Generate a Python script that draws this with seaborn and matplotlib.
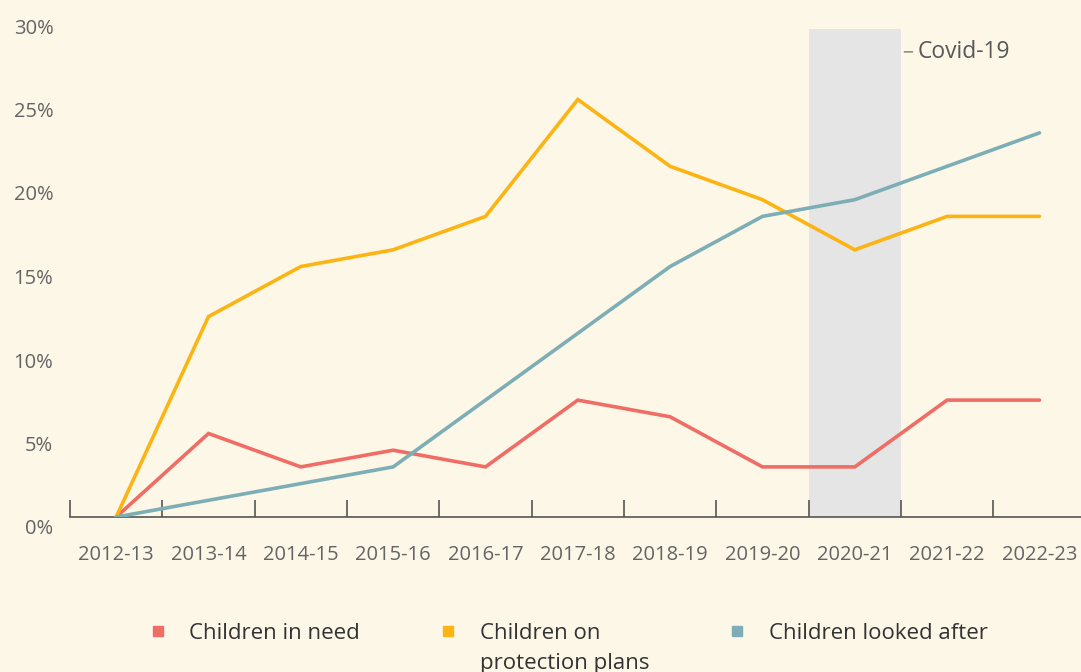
import matplotlib
matplotlib.use("Agg")
import matplotlib.pyplot as plt
import matplotlib.transforms as mtransforms
from matplotlib.lines import Line2D
import seaborn as sns
import pandas as pd

# Percentage change since 2012-13, by year
years = ["2012-13", "2013-14", "2014-15", "2015-16", "2016-17", "2017-18",
         "2018-19", "2019-20", "2020-21", "2021-22", "2022-23"]
children_in_need = [0, 5, 3, 4, 3, 7, 6, 3, 3, 7, 7]
protection_plans = [0, 12, 15, 16, 18, 25, 21, 19, 16, 18, 18]
looked_after = [0, 1, 2, 3, 7, 11, 15, 18, 19, 21, 23]

series_names = ["Children in need", "Children on protection plans", "Children looked after"]
series_colors = ["#ef6d65", "#fcb414", "#7daeb6"]
# legend labels, wrapped over two rows
legend_lines = [["Children in need", ""],
                ["Children on", "protection plans"],
                ["Children looked after", ""]]
y_ticks = [0, 5, 10, 15, 20, 25, 30]
covid_year = "2020-21"

BG = "#fdf7e8"
TICK_COLOR = "#646464"

sns.set_theme(style="white")
plt.rcParams["font.family"] = ["Open Sans", "DejaVu Sans"]

df = pd.DataFrame({
    "year": years * 3,
    "idx": list(range(len(years))) * 3,
    "value": children_in_need + protection_plans + looked_after,
    "series": [series_names[0]] * len(years) + [series_names[1]] * len(years)
              + [series_names[2]] * len(years),
})

W, H = 1081, 672
fig = plt.figure(figsize=(W / 100, H / 100), dpi=100, facecolor=BG)
ax = fig.add_axes([70 / W, (H - 517) / H, 1 - 70 / W, (517 - 16) / H])
ax.set_facecolor(BG)

# Covid-19 shaded period
ci = years.index(covid_year)
ax.axvspan(ci - 0.5, ci + 0.5, ymin=0, ymax=29.2 / 30, color="#e5e5e5", zorder=0, lw=0)
ax.annotate("Covid-19", xy=(ci + 0.535, 27.85), xytext=(ci + 0.685, 27.85),
            ha="left", va="center", fontsize=16.5, color="#585858",
            arrowprops=dict(arrowstyle="-", color="#585858", lw=0.8,
                            shrinkA=1.5, shrinkB=0))

sns.lineplot(data=df, x="idx", y="value", hue="series", hue_order=series_names,
             palette=series_colors, linewidth=2.6, ax=ax, legend=False,
             zorder=3, solid_capstyle="round", solid_joinstyle="miter")

ax.set_xlim(-0.5, 10.45)
ax.set_ylim(0, 30)

# Boundary ticks on the x axis, labels centred on each year
ax.set_xticks([i - 0.5 for i in range(len(years))])
ax.set_xticklabels([])
ax.set_xticks(range(len(years)), minor=True)
ax.set_xticklabels(years, minor=True)
ax.tick_params(axis="x", which="major", direction="in", length=12, width=1.2,
               color="#555555", bottom=True)
ax.tick_params(axis="x", which="minor", length=0, pad=20, labelsize=14.5,
               labelcolor=TICK_COLOR)

ax.set_yticks(y_ticks)
ax.set_yticklabels([f"{v}%" for v in y_ticks])
ax.tick_params(axis="y", length=0, pad=12, labelsize=14.5, labelcolor=TICK_COLOR)
offset = mtransforms.ScaledTranslation(0, -10 / 100, fig.dpi_scale_trans)
for lab in ax.get_yticklabels():
    lab.set_transform(lab.get_transform() + offset)

for side in ["top", "right", "left"]:
    ax.spines[side].set_visible(False)
ax.spines["bottom"].set_color("#555555")
ax.spines["bottom"].set_linewidth(1.2)
ax.set_xlabel("")
ax.set_ylabel("")

# Legend: one column per series, the second row carries wrapped label text
handles, labels = [], []
for color, lines in zip(series_colors, legend_lines):
    handles.append(Line2D([], [], marker="s", linestyle="none", markersize=7.5,
                          markerfacecolor=color, markeredgecolor=color))
    labels.append(lines[0])
    handles.append(Line2D([], [], marker="none", linestyle="none"))
    labels.append(lines[1])

leg = fig.legend(handles, labels, ncol=3, frameon=False,
                 loc="upper left", bbox_to_anchor=(151 / W, (H - 623) / H),
                 borderpad=0, borderaxespad=0,
                 fontsize=16, handlelength=0.6, handletextpad=1.13,
                 columnspacing=3.65, labelspacing=0.42, labelcolor="#333333")

fig.savefig("out.png", dpi=100, facecolor=BG)
